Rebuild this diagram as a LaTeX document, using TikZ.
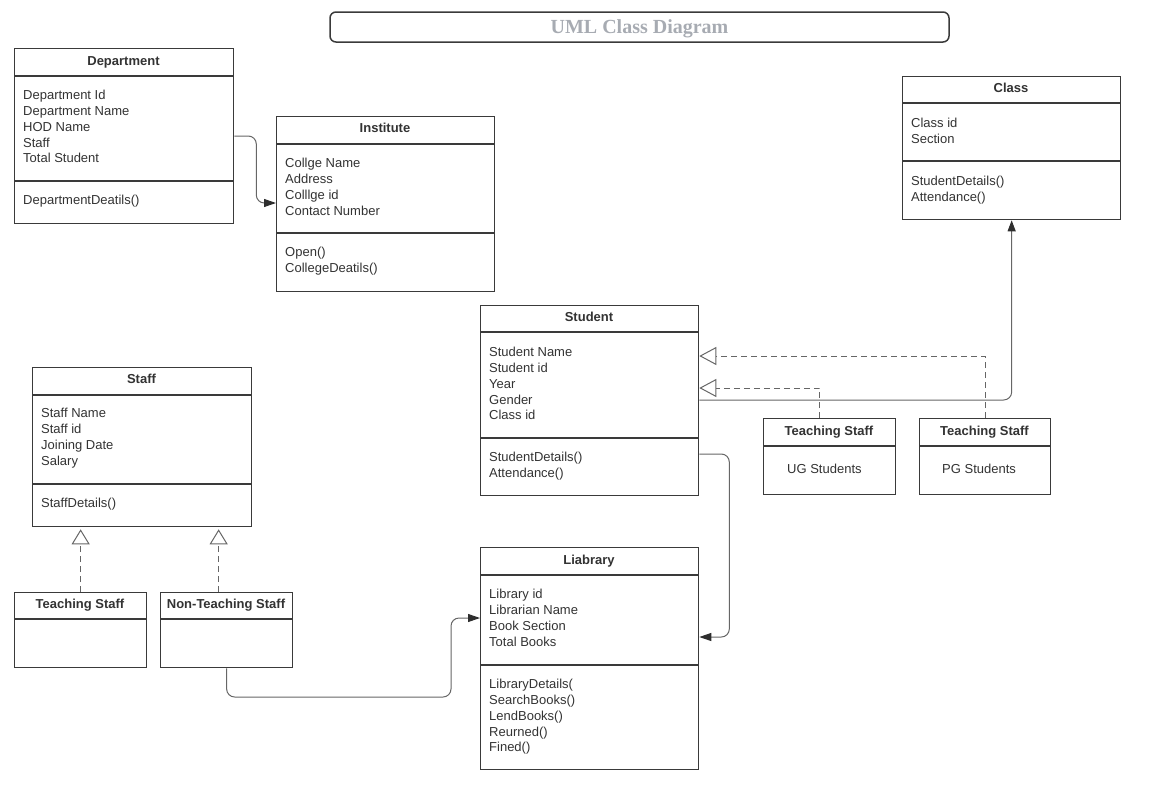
\documentclass[tikz,border=0pt]{standalone}
\usepackage{fontspec}
\setmainfont{Liberation Sans}
\newfontfamily\titlefont{Liberation Serif}
\usetikzlibrary{calc,arrows.meta}
\definecolor{boxc}{HTML}{3A3A3A}
\definecolor{connc}{HTML}{666666}
\definecolor{tipc}{HTML}{2E2E2E}
\definecolor{textc}{HTML}{333333}
\definecolor{titletext}{HTML}{A7ABB2}
\tikzset{
  classbox/.style={draw=boxc, line width=1.3pt, anchor=north west, inner sep=0pt, fill=white},
  divline/.style={draw=boxc, line width=1.3pt},
  ctitle/.style={anchor=base, inner sep=0pt, text=textc, font=\fontsize{13pt}{15.75pt}\selectfont\bfseries},
  clines/.style={anchor=north west, inner sep=0pt, align=left, text=textc, font=\fontsize{13pt}{15.75pt}\selectfont},
  conn/.style={draw=connc, line width=1pt, rounded corners=8pt},
  realize/.style={draw=connc, line width=1pt, dash pattern=on 6pt off 4pt},
  fillarrow/.style={-{Triangle[length=12pt,width=8pt,color=tipc]}},
  openarrow/.style={-{Triangle[open,length=17pt,width=18pt,fill=white]}},
  openarrowsm/.style={-{Triangle[open,length=15pt,width=18pt,fill=white]}},
}
\begin{document}
\begin{tikzpicture}[x=1pt,y=-1pt]
\useasboundingbox (0,0) rectangle (1174,795);

% Title
\node[draw=boxc, line width=1.5pt, rounded corners=6pt, minimum width=619pt, minimum height=30pt,
  inner sep=0pt, text=titletext, font=\titlefont\bfseries\fontsize{20pt}{20pt}\selectfont,
  text height=12.5pt, text depth=0pt] (title) at (639.5,27) {UML Class Diagram};

% Department
\node[classbox, minimum width=219pt, minimum height=175pt] (dept) at (14,48) {};
\draw[divline] ($(dept.north west)+(0,28)$) -- ($(dept.north east)+(0,28)$);
\draw[divline] ($(dept.north west)+(0,133)$) -- ($(dept.north east)+(0,133)$);
\node[ctitle] (dept-t) at (123.5,65.6) {Department};
\node[clines] (dept-a) at (23,88.7) {\strut Department Id\\Department Name\\HOD Name\\Staff\\Total Student};
\node[clines] (dept-m) at (23,193.7) {\strut DepartmentDeatils()};

% Institute
\node[classbox, minimum width=218pt, minimum height=175pt] (inst) at (276,116) {};
\draw[divline] ($(inst.north west)+(0,28)$) -- ($(inst.north east)+(0,28)$);
\draw[divline] ($(inst.north west)+(0,117)$) -- ($(inst.north east)+(0,117)$);
\node[ctitle] (inst-t) at (385,132.6) {Institute};
\node[clines] (inst-a) at (285,156.7) {\strut Collge Name\\Address\\Colllge id\\Contact Number};
\node[clines] (inst-m) at (285,245.7) {\strut Open()\\CollegeDeatils()};

% Class
\node[classbox, minimum width=218pt, minimum height=143pt] (cls) at (902,76) {};
\draw[divline] ($(cls.north west)+(0,27)$) -- ($(cls.north east)+(0,27)$);
\draw[divline] ($(cls.north west)+(0,85)$) -- ($(cls.north east)+(0,85)$);
\node[ctitle] (cls-t) at (1011,92.6) {Class};
\node[clines] (cls-a) at (911,116.7) {\strut Class id\\Section};
\node[clines] (cls-m) at (911,174.7) {\strut StudentDetails()\\Attendance()};

% Student
\node[classbox, minimum width=218pt, minimum height=190pt] (stu) at (480,305) {};
\draw[divline] ($(stu.north west)+(0,27)$) -- ($(stu.north east)+(0,27)$);
\draw[divline] ($(stu.north west)+(0,133)$) -- ($(stu.north east)+(0,133)$);
\node[ctitle] (stu-t) at (589,321.6) {Student};
\node[clines] (stu-a) at (489,345.7) {\strut Student Name\\Student id\\Year\\Gender\\Class id};
\node[clines] (stu-m) at (489,450.7) {\strut StudentDetails()\\Attendance()};

% Teaching Staff (UG)
\node[classbox, minimum width=132pt, minimum height=76pt] (ug) at (763,418) {};
\draw[divline] ($(ug.north west)+(0,28)$) -- ($(ug.north east)+(0,28)$);
\node[ctitle] (ug-t) at (829,435.6) {Teaching Staff};
\node[anchor=base west, inner sep=0pt, text=textc, font=\fontsize{13pt}{15.75pt}\selectfont] (ug-a) at (787,473.6) {UG Students};

% Teaching Staff (PG)
\node[classbox, minimum width=131pt, minimum height=76pt] (pg) at (919,418) {};
\draw[divline] ($(pg.north west)+(0,28)$) -- ($(pg.north east)+(0,28)$);
\node[ctitle] (pg-t) at (984.5,435.6) {Teaching Staff};
\node[anchor=base west, inner sep=0pt, text=textc, font=\fontsize{13pt}{15.75pt}\selectfont] (pg-a) at (942,473.6) {PG Students};

% Staff
\node[classbox, minimum width=219pt, minimum height=159pt] (staff) at (32,367) {};
\draw[divline] ($(staff.north west)+(0,28)$) -- ($(staff.north east)+(0,28)$);
\draw[divline] ($(staff.north west)+(0,117)$) -- ($(staff.north east)+(0,117)$);
\node[ctitle] (staff-t) at (141.5,383.6) {Staff};
\node[clines] (staff-a) at (41,406.7) {\strut Staff Name\\Staff id\\Joining Date\\Salary};
\node[clines] (staff-m) at (41,496.7) {\strut StaffDetails()};

% Teaching Staff (left)
\node[classbox, minimum width=132pt, minimum height=75pt] (ts) at (14,592) {};
\draw[divline] ($(ts.north west)+(0,27)$) -- ($(ts.north east)+(0,27)$);
\node[ctitle] (ts-t) at (80,608.6) {Teaching Staff};

% Non-Teaching Staff
\node[classbox, minimum width=132pt, minimum height=75pt] (nts) at (160,592) {};
\draw[divline] ($(nts.north west)+(0,27)$) -- ($(nts.north east)+(0,27)$);
\node[ctitle] (nts-t) at (226,608.6) {Non-Teaching Staff};

% Library
\node[classbox, minimum width=218pt, minimum height=222pt] (lib) at (480,547) {};
\draw[divline] ($(lib.north west)+(0,28)$) -- ($(lib.north east)+(0,28)$);
\draw[divline] ($(lib.north west)+(0,118)$) -- ($(lib.north east)+(0,118)$);
\node[ctitle] (lib-t) at (589,564.6) {Liabrary};
\node[clines] (lib-a) at (489,587.7) {\strut Library id\\Librarian Name\\Book Section\\Total Books};
\node[clines] (lib-m) at (489,677.7) {\strut LibraryDetails(\\SearchBooks()\\LendBooks()\\Reurned()\\Fined()};

% Connectors
\draw[conn, fillarrow] ($(dept.north east)+(0,88)$) -- ++(22,0) |- ($(inst.north west)+(0,87)$);
\draw[conn, -{Triangle[length=11pt,width=8pt,color=tipc]}] ($(stu.north east)+(0,95)$) -| (cls.south);
\draw[realize, openarrow] ($(ug.north)+(-10,0)$) |- ($(stu.north east)+(0,83)$);
\draw[realize, openarrow] (pg.north) |- ($(stu.north east)+(0,51)$);
\draw[conn, fillarrow] ($(stu.north east)+(0,149)$) -- ++(30,0) |- ($(lib.north east)+(0,90)$);
\draw[conn, fillarrow] (nts.south) |- ($(lib.north west)+(-29,150)$) |- ($(lib.north west)+(0,71)$);
\draw[realize, openarrowsm] (ts.north) -- ($(ts.north |- staff.south)+(0,2)$);
\draw[realize, openarrowsm] ($(nts.north)+(-8,0)$) -- ($(nts.north |- staff.south)+(-8,2)$);
\end{tikzpicture}
\end{document}
